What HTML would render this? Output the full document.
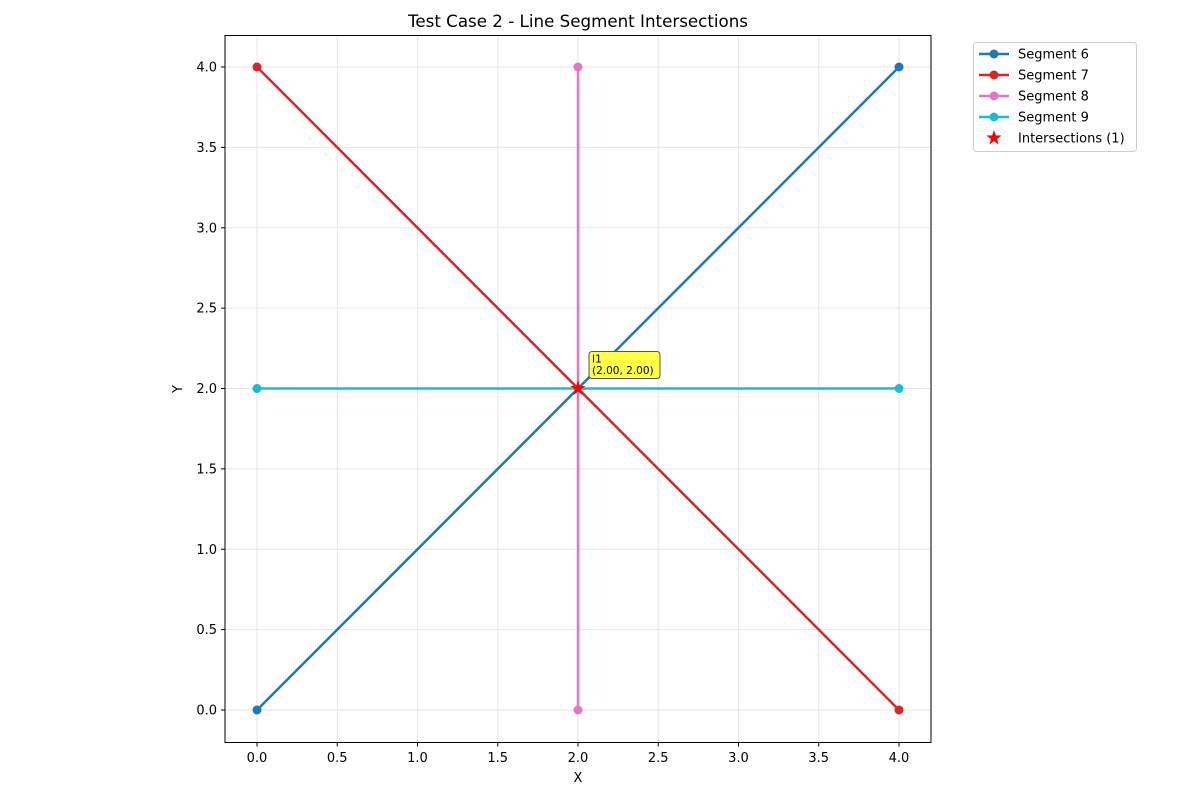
<!DOCTYPE html>
<html><head><meta charset="utf-8"><style>
body{margin:0;background:#fff;}
svg{display:block;font-family:"DejaVu Sans","Liberation Sans",sans-serif;}
</style></head><body>
<svg id="chart" width="1200" height="800">
<rect x="0" y="0" width="1200" height="800" fill="#fff"/>
<g id="grid"></g>
<g id="marks"></g>
<rect x="225" y="35.5" width="706" height="707" fill="none" stroke="#000" stroke-width="1"/>
<g id="ticks" font-size="13" fill="#000"></g>
<text x="578" y="27" font-size="16.7" text-anchor="middle">Test Case 2 - Line Segment Intersections</text>
<text x="578" y="782" font-size="13" text-anchor="middle">X</text>
<text x="182" y="389" font-size="13" text-anchor="middle" transform="rotate(-90 182 389)">Y</text>
<g id="legend"></g>
</svg>
<script>
const segNames = ["Segment 6","Segment 7","Segment 8","Segment 9"];
const segColors = ["#1f77b4","#d62728","#e377c2","#17becf"];
const segX1 = [0,0,2,0];
const segY1 = [0,4,0,2];
const segX2 = [4,4,2,4];
const segY2 = [4,0,4,2];
const interX = [2.0];
const interY = [2.0];
const interLabels = ["I1\n(2.00, 2.00)"];
const tickVals = [0,0.5,1,1.5,2,2.5,3,3.5,4];
const tickLabels = ["0.0","0.5","1.0","1.5","2.0","2.5","3.0","3.5","4.0"];

const NS="http://www.w3.org/2000/svg";
function sx(v){return 257+v*160.5;}
function sy(v){return 710-v*160.75;}
function mk(tag,attrs,parent){const e=document.createElementNS(NS,tag);for(const k in attrs)e.setAttribute(k,attrs[k]);parent.appendChild(e);return e;}
const grid=document.getElementById('grid'),marks=document.getElementById('marks'),ticks=document.getElementById('ticks'),legend=document.getElementById('legend');
tickVals.forEach((v,i)=>{
  let g=mk('line',{x1:sx(v),x2:sx(v),y1:35.5,y2:742.5,stroke:'#e6e6e6','stroke-width':1},grid);
  
  
  g=mk('line',{x1:225,x2:931,y1:sy(v),y2:sy(v),stroke:'#e6e6e6','stroke-width':1},grid);
  
  
  mk('line',{x1:sx(v),x2:sx(v),y1:742.5,y2:746.5,stroke:'#000'},ticks);
  let t=mk('text',{x:sx(v),y:762,'text-anchor':'middle'},ticks);t.textContent=tickLabels[i];
  
  
  mk('line',{x1:221,x2:225,y1:sy(v),y2:sy(v),stroke:'#000'},ticks);
  t=mk('text',{x:217,y:sy(v)+4.5,'text-anchor':'end'},ticks);t.textContent=tickLabels[i];
  
  
});
function star(cx,cy,r,parent){let p='';for(let i=0;i<10;i++){const a=-Math.PI/2+i*Math.PI/5;const rr=i%2?r*0.4:r;p+=(i?'L':'M')+(cx+rr*Math.cos(a)).toFixed(2)+','+(cy+rr*Math.sin(a)).toFixed(2);}return mk('path',{d:p+'Z',fill:'#ff0000'},parent);}
segNames.forEach((n,i)=>{
  const l=mk('line',{x1:sx(segX1[i]),y1:sy(segY1[i]),x2:sx(segX2[i]),y2:sy(segY2[i]),stroke:segColors[i],'stroke-width':2.5},marks);
  
  
  [[segX1[i],segY1[i]],[segX2[i],segY2[i]]].forEach(p=>{
    const c=mk('circle',{cx:sx(p[0]),cy:sy(p[1]),r:4.5,fill:segColors[i]},marks);
    
    
  });
  const y=54+i*21;
  const ll=mk('line',{x1:979,x2:1009,y1:y,y2:y,stroke:segColors[i],'stroke-width':2.5},legend);
  
  
  mk('circle',{cx:994,cy:y,r:4.5,fill:segColors[i]},legend);
  const t=mk('text',{x:1018,y:y+4.5,'font-size':13},legend);t.textContent=n;
  
  
});
interX.forEach((v,i)=>{
  const s=star(sx(v),sy(interY[i]),8,marks);
  
  
  const bx=sx(v)+11,by=sy(interY[i])-37;
  const r=mk('rect',{x:bx,y:by,width:71,height:27,rx:3,fill:'#ffff44',stroke:'#555','stroke-width':1},marks);
  
  
  interLabels[i].split('\n').forEach((ln,j)=>{
    const t=mk('text',{x:bx+3,y:by+11+j*11.5,'font-size':10.5},marks);t.textContent=ln;
    
    
  });
});
const lb=mk('rect',{x:973.5,y:42.5,width:163,height:109,rx:3,fill:'#fff','fill-opacity':0.8,stroke:'#ccc'},legend);
legend.insertBefore(lb,legend.firstChild);


const ls=star(994,138,8,legend);


const lt=mk('text',{x:1018,y:142.5,'font-size':13},legend);lt.textContent="Intersections ("+interX.length+")";


</script>
</body></html>
